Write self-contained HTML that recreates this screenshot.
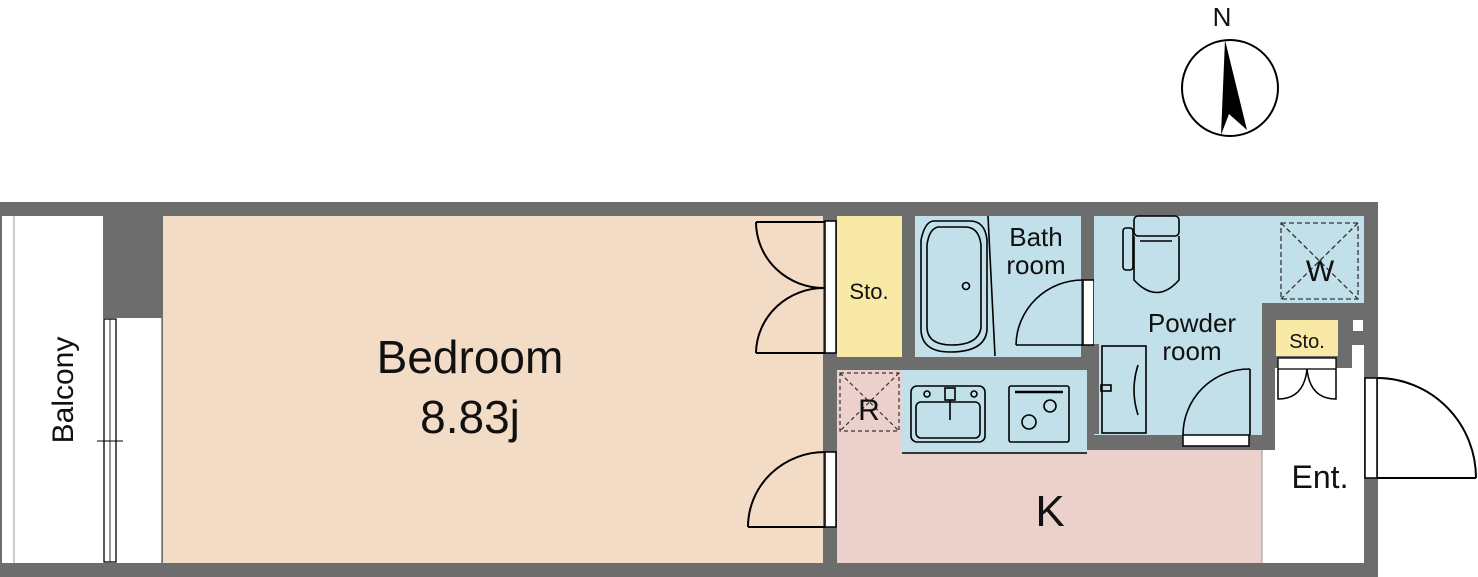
<!DOCTYPE html>
<html><head><meta charset="utf-8"><style>
html,body{margin:0;padding:0;background:#fff;}
svg{display:block;}
text{font-family:"Liberation Sans","DejaVu Sans",sans-serif;fill:#111;}
</style></head><body>
<svg width="1478" height="577" viewBox="0 0 1478 577" xmlns="http://www.w3.org/2000/svg">
<!-- compass -->
<text x="1222" y="26" font-size="26" text-anchor="middle">N</text>
<circle cx="1230" cy="88" r="48" fill="#fff" stroke="#000" stroke-width="2"/>
<polygon points="1225,40 1221,135 1229,114 1247,130" fill="#000"/>
<!-- wall base -->
<rect x="0" y="202" width="1378" height="375" fill="#6d6d6d"/>
<!-- balcony -->
<rect x="2" y="216" width="101" height="347" fill="#fff"/>
<line x1="14" y1="216" x2="14" y2="563" stroke="#999" stroke-width="1"/>
<rect x="103" y="318" width="59" height="245" fill="#fff"/>
<line x1="161.5" y1="318" x2="161.5" y2="563" stroke="#999" stroke-width="1"/>
<rect x="104" y="319" width="12" height="243" fill="#fff" stroke="#000" stroke-width="1.3"/>
<line x1="110" y1="319" x2="110" y2="562" stroke="#000" stroke-width="0.8"/>
<line x1="97" y1="441" x2="123" y2="441" stroke="#000" stroke-width="1"/>
<text transform="translate(73,390) rotate(-90)" font-size="30" text-anchor="middle">Balcony</text>
<!-- bedroom -->
<rect x="163" y="216" width="660" height="347" fill="#f2dcc6"/>
<text x="470" y="373" font-size="46" text-anchor="middle">Bedroom</text>
<text x="470" y="433" font-size="46" text-anchor="middle">8.83j</text>
<!-- closet doors -->
<g fill="none" stroke="#000" stroke-width="2">
<path d="M756,222 A68,66 0 0 0 825,288"/>
<line x1="756" y1="222" x2="825" y2="222"/>
<path d="M756,353 A68,66 0 0 1 825,288"/>
<line x1="756" y1="353" x2="825" y2="353"/>
<path d="M748,527 A77,75 0 0 1 825,452"/>
<line x1="748" y1="527" x2="825" y2="527"/>
</g>
<rect x="825" y="221" width="11" height="132" fill="#fff" stroke="#000" stroke-width="1.5"/>
<rect x="825" y="452" width="11" height="75" fill="#fff" stroke="#000" stroke-width="1.5"/>
<!-- sto -->
<rect x="837" y="216" width="65" height="141" fill="#f8e9a6"/>
<text x="869" y="299" font-size="22" text-anchor="middle">Sto.</text>
<!-- bath -->
<rect x="915" y="216" width="166" height="141" fill="#c1e0ea"/>
<g fill="none" stroke="#000" stroke-width="1.6">
<path d="M934,221 Q925,221 921,240 L921,330 Q922,352 950,352 Q985,352 987,330 L987,240 Q985,221 970,221 Z"/>
<path d="M938,227 Q929,229 927,245 L927,328 Q928,345 952,345 Q978,345 981,328 L981,245 Q979,227 965,227 Z"/>
<circle cx="966" cy="286" r="3.5"/>
<line x1="988" y1="216" x2="995" y2="356"/>
<path d="M1016,345 A67,66 0 0 1 1083,280"/>
<line x1="1016" y1="345" x2="1083" y2="345"/>
</g>
<rect x="1083" y="280" width="11" height="65" fill="#fff" stroke="#000" stroke-width="1.5"/>
<text x="1036" y="246" font-size="26" text-anchor="middle">Bath</text>
<text x="1036" y="274" font-size="26" text-anchor="middle">room</text>
<!-- kitchen -->
<rect x="837" y="370" width="250" height="193" fill="#ecd0cb"/>
<rect x="1087" y="450" width="175" height="113" fill="#ecd0cb"/>
<rect x="902" y="370" width="185" height="83" fill="#c1e0ea"/>
<g fill="none" stroke="#000" stroke-width="1.6">
<line x1="902" y1="453" x2="1087" y2="453"/>
<rect x="911" y="386" width="74" height="56" rx="6"/>
<rect x="916" y="402" width="64" height="36" rx="5"/>
<rect x="945" y="388" width="10" height="12"/>
<line x1="950" y1="400" x2="950" y2="420"/>
<circle cx="927" cy="394" r="3"/><circle cx="974" cy="394" r="3"/>
<rect x="1009" y="386" width="60" height="56" rx="2"/>
<line x1="1015" y1="392" x2="1063" y2="392" stroke-width="2.5"/>
<circle cx="1029" cy="422" r="7"/><circle cx="1050" cy="406" r="6"/>
</g>
<g fill="none" stroke="#333" stroke-width="1.2" stroke-dasharray="4,3">
<rect x="840" y="373" width="59" height="58"/>
<line x1="840" y1="373" x2="899" y2="431"/>
<line x1="899" y1="373" x2="840" y2="431"/>
</g>
<text x="869" y="420" font-size="30" text-anchor="middle">R</text>
<text x="1050" y="526" font-size="44" text-anchor="middle">K</text>
<!-- powder room -->
<rect x="1094" y="216" width="270" height="87" fill="#c1e0ea"/>
<rect x="1094" y="216" width="168" height="219" fill="#c1e0ea"/>
<g fill="none" stroke="#000" stroke-width="1.6">
<rect x="1134" y="216" width="45" height="20" rx="4"/>
<path d="M1134,236 L1134,280 Q1157,305 1179,280 L1179,236"/>
<line x1="1140" y1="241" x2="1172" y2="241"/>
<rect x="1123" y="228" width="10" height="42" rx="3"/>
<rect x="1102" y="346" width="44" height="87"/>
<path d="M1138,365 Q1130,390 1138,415"/>
<rect x="1101" y="385" width="10" height="6"/>
<path d="M1183,435 A66,66 0 0 1 1250,369"/>
<line x1="1250" y1="369" x2="1250" y2="435"/>
</g>
<rect x="1094" y="344" width="5" height="90" fill="#6d6d6d"/>
<rect x="1183" y="435" width="66" height="11" fill="#fff" stroke="#000" stroke-width="1.5"/>
<text x="1192" y="332" font-size="26" text-anchor="middle">Powder</text>
<text x="1192" y="360" font-size="26" text-anchor="middle">room</text>
<g fill="none" stroke="#333" stroke-width="1.3" stroke-dasharray="5,3">
<rect x="1281" y="223" width="77" height="76"/>
<line x1="1281" y1="223" x2="1358" y2="299"/>
<line x1="1358" y1="223" x2="1281" y2="299"/>
</g>
<text x="1320" y="281" font-size="30" text-anchor="middle">W</text>
<!-- entrance -->
<rect x="1275" y="368" width="89" height="195" fill="#fff"/>
<rect x="1352" y="345" width="12" height="23" fill="#fff"/>
<rect x="1262" y="450" width="13" height="113" fill="#fff"/>
<line x1="1262" y1="450" x2="1262" y2="563" stroke="#999"/>
<rect x="1276" y="320" width="62" height="36" fill="#f8e9a6"/>
<rect x="1353" y="320" width="10" height="11" fill="#fff"/>
<text x="1307" y="348" font-size="20" text-anchor="middle">Sto.</text>
<rect x="1278" y="358" width="58" height="11" fill="#fff" stroke="#000" stroke-width="1.3"/>
<g fill="none" stroke="#000" stroke-width="1.5">
<path d="M1278,369 L1278,399 Q1304,399 1307,369 Q1310,399 1336,399 L1336,369"/>
</g>
<text x="1320" y="488" font-size="32" text-anchor="middle">Ent.</text>
<rect x="1365" y="378" width="12" height="100" fill="#fff" stroke="#000" stroke-width="1.5"/>
<g fill="none" stroke="#000" stroke-width="2">
<path d="M1377,378 A99,100 0 0 1 1476,478"/>
<line x1="1377" y1="478" x2="1476" y2="478"/>
</g>
</svg>
</body></html>
